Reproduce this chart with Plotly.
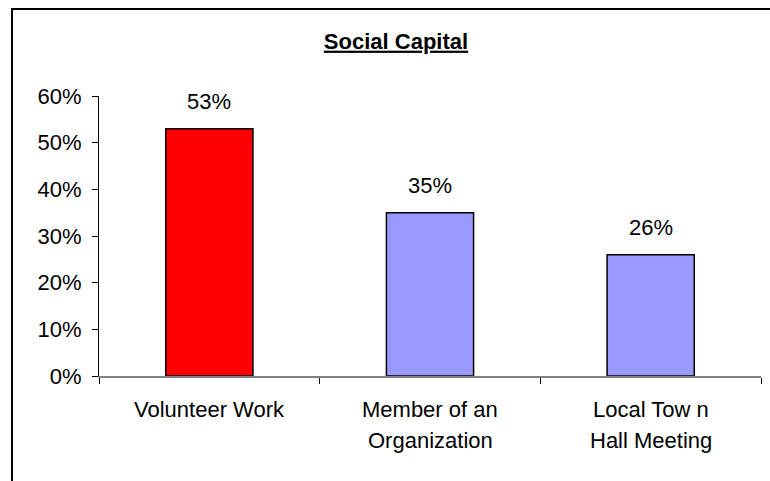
import plotly.graph_objects as go

# Survey results: share of respondents per civic activity
categories = ["Volunteer Work", "Member of an Organization", "Local Town Hall Meeting"]
label_lines = [["Volunteer Work"], ["Member of an", "Organization"], ["Local Tow n", "Hall Meeting"]]
values = [0.53, 0.35, 0.26]
value_labels = ["53%", "35%", "26%"]
bar_colors = ["#FF0000", "#9999FF", "#9999FF"]
y_ticks = [0, 0.1, 0.2, 0.3, 0.4, 0.5, 0.6]
y_tick_text = ["0%", "10%", "20%", "30%", "40%", "50%", "60%"]

FONT = "Liberation Sans, Arial, sans-serif"
FS = 22

# plot area geometry (pixels)
W, H = 770, 481
L, R, T, B = 99, 9, 96, 105
PW, PH = W - L - R, H - T - B

fig = go.Figure(
    go.Bar(
        x=categories,
        y=values,
        marker=dict(color=bar_colors, line=dict(color="#000000", width=1.5)),
        width=0.395,
        hoverinfo="skip",
    )
)

annotations = []
# value labels above each bar
for cat, v, txt in zip(categories, values, value_labels):
    annotations.append(dict(
        x=cat, y=v, xref="x", yref="y", text=txt, showarrow=False,
        yanchor="middle", yshift=27, font=dict(family=FONT, size=FS, color="#000000"),
    ))
# category labels below the axis, one annotation per line
for cat, lines in zip(categories, label_lines):
    for i, line in enumerate(lines):
        annotations.append(dict(
            x=cat, y=0, xref="x", yref="paper", text=line, showarrow=False,
            yanchor="middle", yshift=-33 - 31 * i,
            font=dict(family=FONT, size=FS, color="#000000"),
        ))

fig.update_layout(
    width=W, height=H,
    margin=dict(l=L, r=R, t=T, b=B),
    paper_bgcolor="#FFFFFF", plot_bgcolor="#FFFFFF",
    showlegend=False,
    title=dict(
        text="<b><u>Social Capital</u></b>",
        x=396 / W, xanchor="center", xref="container",
        y=1 - 41 / H, yanchor="middle", yref="container",
        font=dict(family=FONT, size=FS, color="#000000"),
    ),
    xaxis=dict(
        type="category", tickson="boundaries", showticklabels=False,
        ticks="outside", ticklen=6, tickcolor="#000000", tickwidth=1,
        showline=True, linecolor="#808080", linewidth=1.5,
        showgrid=False, zeroline=False,
    ),
    yaxis=dict(
        range=[0, 0.6], tickvals=y_ticks, ticktext=y_tick_text,
        ticks="outside", ticklen=6, tickcolor="#000000", tickwidth=1,
        showline=True, linecolor="#000000", linewidth=1,
        showgrid=False, zeroline=False, ticklabelstandoff=6,
        tickfont=dict(family=FONT, size=FS, color="#000000"),
    ),
    annotations=annotations,
    shapes=[dict(
        type="rect", xref="paper", yref="paper",
        x0=(12 - L) / PW, x1=(W + 20 - L) / PW,
        y0=-(H + 20 - (H - B)) / PH, y1=1 + (T - 9) / PH,
        line=dict(color="#000000", width=2), fillcolor="rgba(0,0,0,0)",
        layer="above",
    )],
)

fig.write_html("out.html")
